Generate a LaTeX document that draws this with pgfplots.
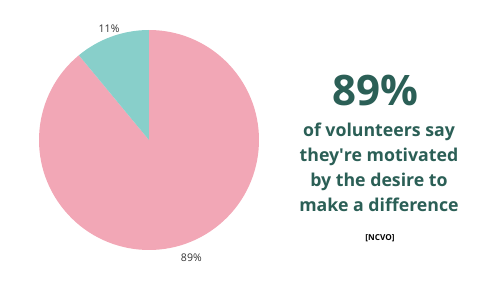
\documentclass[border=0pt]{standalone}
\usepackage{pgfplots}
\pgfplotsset{compat=1.18}
\usepackage{pgfplotstable}
\usepackage{fontspec}
\setmainfont{Open Sans}
\definecolor{piepink}{HTML}{F2A7B6}
\definecolor{pieteal}{HTML}{88CFCA}
\definecolor{darkteal}{HTML}{2B5F56}
\definecolor{lbl}{HTML}{333333}
\pgfplotstableread{
part value
Motivated 89
Other 11
}\piedata
\begin{document}
\begin{tikzpicture}
\pgfplotstablegetelem{0}{value}\of\piedata \let\va\pgfplotsretval
\pgfplotstablegetelem{1}{value}\of\piedata \let\vb\pgfplotsretval
\pgfmathsetmacro{\angB}{90+\vb*3.6}
\pgfmathsetmacro{\angA}{\angB+\va*3.6}
\pgfmathsetmacro{\midB}{90+\vb*1.8}
\pgfmathsetmacro{\midA}{\angB+\va*1.8}
\begin{axis}[scale only axis, width=12cm, height=6.744cm,
  xmin=0, xmax=500, ymin=0, ymax=281, hide axis, clip=false]
\path (axis cs:0,0) rectangle (axis cs:500,281);
\fill[piepink] (axis cs:149,141) -- ++(\angB:2.64cm) arc[start angle=\angB, end angle=\angA, radius=2.64cm] -- cycle;
\fill[pieteal] (axis cs:149,141) -- ++(90:2.64cm) arc[start angle=90, end angle=\angB, radius=2.64cm] -- cycle;
\path (axis cs:149,141) ++(\midB:2.83cm) node[font=\fontsize{7.2}{8}\selectfont, text=lbl] {\vb\%};
\path (axis cs:149,141) ++(\midA:3.0cm) node[font=\fontsize{7.2}{8}\selectfont, text=lbl] {\va\%};
\node[anchor=base, text=darkteal, font=\bfseries\fontsize{28.7}{30}\selectfont] at (axis cs:375,176) {\va\%};
\node[anchor=base, align=center, text=darkteal, font=\bfseries\fontsize{12.1}{17}\selectfont] at (axis cs:379,69.5)
  {of volunteers say\\they\textquotesingle re motivated\\by the desire to\\make a difference};
\node[anchor=base, text=black, font=\bfseries\fontsize{5.6}{7}\selectfont] at (axis cs:380,41) {[NCVO]};
\end{axis}
\end{tikzpicture}
\end{document}
